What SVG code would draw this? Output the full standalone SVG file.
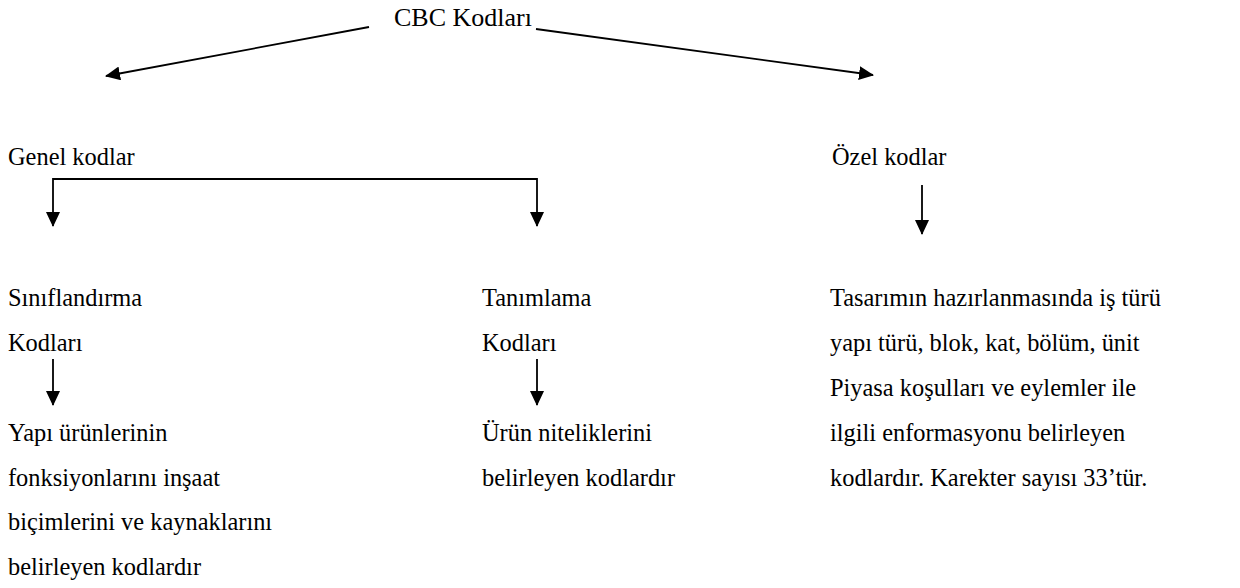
<svg xmlns="http://www.w3.org/2000/svg" width="1240" height="588" viewBox="0 0 1240 588">
<defs>
<style>
text{font-family:"Liberation Serif","Times New Roman",serif;font-size:24.4px;fill:#000}
.c{stroke:#000;stroke-width:1.8;fill:none}
</style>
<marker id="ah" viewBox="0 0 15 14" refX="14" refY="7" markerWidth="15" markerHeight="14" markerUnits="userSpaceOnUse" orient="auto"><path d="M0,0 L15,7 L0,14 z" fill="#000"/></marker>
</defs>
<rect width="1240" height="588" fill="#fff"/>
<g id="connectors">
<line class="c" x1="369" y1="27" x2="106" y2="76" marker-end="url(#ah)"/>
<line class="c" x1="536" y1="29" x2="873" y2="75" marker-end="url(#ah)"/>
<line class="c" x1="53" y1="179" x2="537" y2="179"/>
<line class="c" x1="53" y1="178.1" x2="53" y2="226" marker-end="url(#ah)"/>
<line class="c" x1="537" y1="178.1" x2="537" y2="226" marker-end="url(#ah)"/>
<line class="c" x1="922" y1="185" x2="922" y2="234" marker-end="url(#ah)"/>
<line class="c" x1="53" y1="359" x2="53" y2="405" marker-end="url(#ah)"/>
<line class="c" x1="537" y1="359" x2="537" y2="405" marker-end="url(#ah)"/>
</g>
<g id="cbc"><text x="394" y="26" style="font-size:26px">CBC Kodları</text></g>
<g id="genel"><text x="8" y="165">Genel kodlar</text></g>
<g id="ozel"><text x="832" y="165">Özel kodlar</text></g>
<g id="sinif"><text x="8" y="306">Sınıflandırma</text><text x="8" y="351">Kodları</text></g>
<g id="tanim"><text x="482" y="306">Tanımlama</text><text x="482" y="351">Kodları</text></g>
<g id="yapi"><text x="8" y="440.5">Yapı ürünlerinin</text><text x="8" y="485.5">fonksiyonlarını inşaat</text><text x="8" y="530">biçimlerini ve kaynaklarını</text><text x="8" y="575">belirleyen kodlardır</text></g>
<g id="urun"><text x="482" y="440.5">Ürün niteliklerini</text><text x="482" y="485.5">belirleyen kodlardır</text></g>
<g id="tasarim"><text x="830" y="306">Tasarımın hazırlanmasında iş türü</text><text x="830" y="351">yapı türü, blok, kat, bölüm, ünit</text><text x="830" y="395.5">Piyasa koşulları ve eylemler ile</text><text x="830" y="440.5">ilgili enformasyonu belirleyen</text><text x="830" y="485.5">kodlardır. Karekter sayısı 33’tür.</text></g>
</svg>
